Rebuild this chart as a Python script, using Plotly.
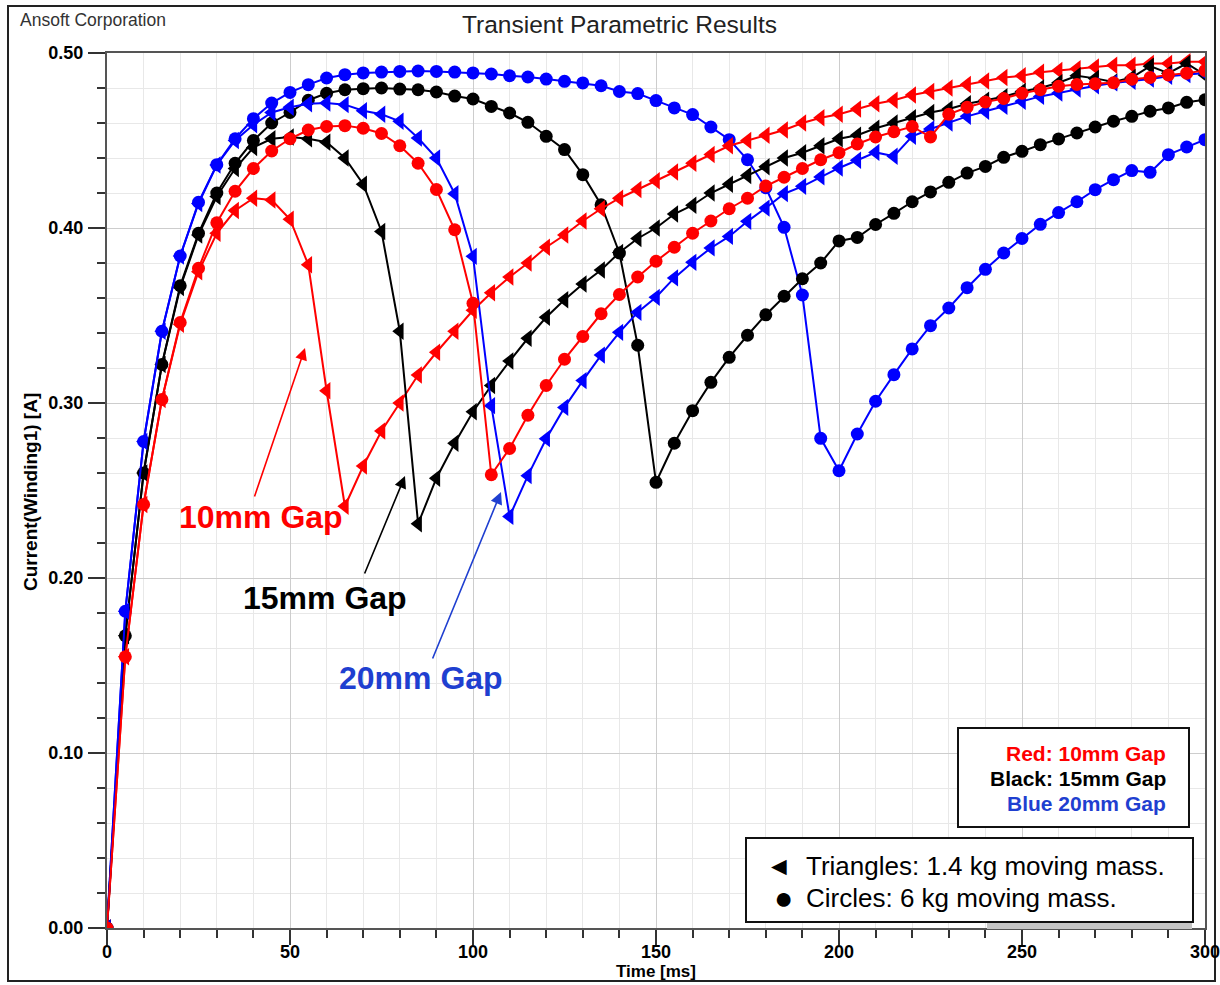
import plotly.graph_objects as go

# Sample times (ms) shared by all six runs
time_ms = list(range(0, 301, 5))

# Winding current [A] — triangles: 1.4 kg moving mass, circles: 6 kg moving mass
gap10_light = [0.0, 0.155, 0.242, 0.302, 0.345, 0.375, 0.397, 0.410, 0.417, 0.416,
               0.405, 0.379, 0.307, 0.241, 0.264, 0.284, 0.300, 0.316, 0.329, 0.341,
               0.353, 0.363, 0.372, 0.380, 0.389, 0.396, 0.404, 0.411, 0.417, 0.422,
               0.427, 0.432, 0.437, 0.442, 0.447, 0.450, 0.453, 0.456, 0.460, 0.463,
               0.465, 0.468, 0.471, 0.473, 0.476, 0.478, 0.480, 0.482, 0.484, 0.486,
               0.487, 0.489, 0.490, 0.491, 0.492, 0.493, 0.493, 0.494, 0.494, 0.495,
               0.495]
gap10_heavy = [0.0, 0.155, 0.242, 0.302, 0.346, 0.377, 0.403, 0.421, 0.434, 0.444,
               0.451, 0.456, 0.458, 0.4585, 0.457, 0.454, 0.447, 0.437, 0.422, 0.399,
               0.357, 0.259, 0.274, 0.293, 0.310, 0.325, 0.338, 0.351, 0.362, 0.372,
               0.381, 0.389, 0.397, 0.404, 0.411, 0.417, 0.424, 0.429, 0.434, 0.439,
               0.443, 0.448, 0.452, 0.455, 0.458, 0.452, 0.465, 0.469, 0.472, 0.474,
               0.477, 0.479, 0.481, 0.482, 0.4825, 0.483, 0.485, 0.486, 0.4875, 0.4885,
               0.490]
gap15_light = [0.0, 0.167, 0.260, 0.322, 0.366, 0.396, 0.418, 0.434, 0.446, 0.451,
               0.452, 0.451, 0.449, 0.440, 0.425, 0.398, 0.341, 0.231, 0.257, 0.277,
               0.295, 0.310, 0.324, 0.337, 0.349, 0.359, 0.368, 0.376, 0.386, 0.394,
               0.400, 0.408, 0.413, 0.420, 0.425, 0.430, 0.435, 0.440, 0.443, 0.447,
               0.451, 0.453, 0.457, 0.460, 0.463, 0.466, 0.468, 0.471, 0.473, 0.475,
               0.478, 0.480, 0.483, 0.487, 0.4855, 0.4835, 0.486, 0.4925, 0.4885, 0.494,
               0.4875]
gap15_heavy = [0.0, 0.167, 0.260, 0.322, 0.367, 0.397, 0.420, 0.437, 0.450, 0.460,
               0.466, 0.473, 0.477, 0.479, 0.4796, 0.480, 0.4794, 0.479, 0.4777, 0.4754,
               0.4737, 0.4695, 0.4657, 0.4604, 0.4524, 0.4448, 0.4305, 0.4133, 0.3857, 0.333,
               0.2547, 0.277, 0.2956, 0.3118, 0.3261, 0.3387, 0.3504, 0.361, 0.371, 0.380,
               0.3926, 0.3946, 0.402, 0.4084, 0.415, 0.4206, 0.4261, 0.4314, 0.4352, 0.4404,
               0.4438, 0.4476, 0.4509, 0.4543, 0.4577, 0.461, 0.4638, 0.4667, 0.4686, 0.4718,
               0.4733]
gap20_light = [0.0, 0.181, 0.278, 0.341, 0.384, 0.414, 0.436, 0.450, 0.459, 0.466,
               0.469, 0.471, 0.4714, 0.4705, 0.467, 0.465, 0.461, 0.4514, 0.440, 0.4196,
               0.3838, 0.2985, 0.2352, 0.2585, 0.2796, 0.2975, 0.3128, 0.3274, 0.3404, 0.3518,
               0.3604, 0.3715, 0.3804, 0.3886, 0.3952, 0.4038, 0.4114, 0.4196, 0.4238, 0.4292,
               0.4343, 0.4387, 0.4432, 0.441, 0.4524, 0.4566, 0.460, 0.4638, 0.4667, 0.4695,
               0.4724, 0.4752, 0.4771, 0.4794, 0.4813, 0.4829, 0.4838, 0.4851, 0.4867, 0.4876,
               0.4886]
gap20_heavy = [0.0, 0.181, 0.278, 0.341, 0.384, 0.4147, 0.4362, 0.451, 0.4625, 0.4714,
               0.4775, 0.4819, 0.4857, 0.4876, 0.4886, 0.4891, 0.4895, 0.4897, 0.4895, 0.4891,
               0.4886, 0.488, 0.487, 0.4863, 0.4851, 0.4838, 0.4829, 0.4813, 0.478, 0.4768,
               0.4728, 0.4686, 0.4648, 0.4577, 0.4505, 0.439, 0.423, 0.4004, 0.3617, 0.2798,
               0.2613, 0.2823, 0.301, 0.3162, 0.3309, 0.3442, 0.3543, 0.3659, 0.3764, 0.3857,
               0.394, 0.4021, 0.4088, 0.415, 0.4219, 0.4276, 0.4328, 0.4318, 0.4419, 0.4463,
               0.4505]

x_ticks = [0, 50, 100, 150, 200, 250, 300]
y_ticks = [0.0, 0.1, 0.2, 0.3, 0.4, 0.5]

RED, BLACK, BLUE = "#ff0000", "#000000", "#0000ff"
TEXT_BLUE = "#1f3fd0"
FONT = "Arial, Liberation Sans, sans-serif"

W, H = 1220, 985
PL, PR, PT, PB = 107, 1205, 53, 928   # plot area edges in page pixels


def fx(px):
    return (px - PL) / (PR - PL)


def fy(py):
    return (PB - py) / (PB - PT)


def dx(px):
    return (px - PL) / (PR - PL) * 300.0


def dy(py):
    return (PB - py) / (PB - PT) * 0.5


fig = go.Figure()

traces = [
    (gap20_heavy, BLUE, "circle", 13, "20mm Gap, 6 kg"),
    (gap15_heavy, BLACK, "circle", 13, "15mm Gap, 6 kg"),
    (gap10_light, RED, "triangle-left", 15, "10mm Gap, 1.4 kg"),
    (gap15_light, BLACK, "triangle-left", 15, "15mm Gap, 1.4 kg"),
    (gap20_light, BLUE, "triangle-left", 15, "20mm Gap, 1.4 kg"),
    (gap10_heavy, RED, "circle", 13, "10mm Gap, 6 kg"),
]
for ys, col, sym, size, name in traces:
    fig.add_trace(go.Scatter(
        x=time_ms, y=ys, mode="lines+markers", name=name,
        line=dict(color=col, width=2),
        marker=dict(symbol=sym, size=size, color=col, line=dict(width=0)),
        showlegend=False,
    ))

axis_common = dict(
    showline=True, linecolor="#555555", linewidth=2, mirror=True,
    ticks="outside", tickwidth=1.5, tickcolor="#333333",
    showgrid=True, gridcolor="#cdcdcd", gridwidth=1,
    zeroline=False, ticklabeloverflow="allow", automargin=False,
    tickfont=dict(family=FONT, size=18, color="#000000", weight="bold"),
)

fig.update_xaxes(
    range=[0, 300], tickvals=x_ticks, ticktext=[str(v) for v in x_ticks],
    ticklen=15, ticklabelstandoff=-9,
    minor=dict(dtick=10, tick0=0, ticks="outside", ticklen=8, tickwidth=1.5,
               tickcolor="#333333", showgrid=True, gridcolor="#e8e8e8"),
    **axis_common,
)
fig.update_yaxes(
    range=[0, 0.5], tickvals=y_ticks, ticktext=[f"{v:.2f}" for v in y_ticks],
    ticklen=17, ticklabelstandoff=1,
    minor=dict(dtick=0.02, tick0=0, ticks="outside", ticklen=8, tickwidth=1.5,
               tickcolor="#333333", showgrid=True, gridcolor="#e8e8e8"),
    **axis_common,
)

shapes = [
    # outer frame
    dict(type="rect", xref="paper", yref="paper", x0=fx(8), x1=fx(1215),
         y0=fy(981), y1=fy(6), line=dict(color="#222222", width=2), layer="below"),
    # grey strip under the lower box
    dict(type="rect", xref="paper", yref="paper", x0=fx(987), x1=fx(1192),
         y0=fy(929), y1=fy(922), fillcolor="#c6c6c6", line=dict(width=0), layer="above"),
    # colour key box
    dict(type="rect", xref="paper", yref="paper", x0=fx(958), x1=fx(1189),
         y0=fy(827), y1=fy(728), fillcolor="white",
         line=dict(color="#111111", width=2), layer="above"),
    # marker key box
    dict(type="rect", xref="paper", yref="paper", x0=fx(746), x1=fx(1193),
         y0=fy(922), y1=fy(838), fillcolor="white",
         line=dict(color="#111111", width=2), layer="above"),
]

ann = []


def text(px, py, s, size, color="#000000", anchor="center", bold=False, angle=0):
    ann.append(dict(
        xref="paper", yref="paper", x=fx(px), y=fy(py), text=s, showarrow=False,
        xanchor=anchor, yanchor="middle", textangle=angle,
        font=dict(family=FONT, size=size, color=color,
                  weight="bold" if bold else "normal"),
    ))


text(18, 20, "Ansoft Corporation", 17.5, "#333333", anchor="left")
text(619, 24, "Transient Parametric Results", 24.5, "#222222")
text(656, 971, "Time [ms]", 17, bold=True)
text(30, 492, "Current(Winding1) [A]", 19, bold=True, angle=-90)

text(1168, 753, "Red: 10mm Gap", 21, RED, anchor="right", bold=True)
text(1168, 778, "Black: 15mm Gap", 21, BLACK, anchor="right", bold=True)
text(1168, 803, "Blue 20mm Gap", 21, TEXT_BLUE, anchor="right", bold=True)

text(779, 866, "◄", 26)
text(783, 898, "●", 32)
text(804, 866, "Triangles: 1.4 kg moving mass.", 26, anchor="left")
text(804, 898, "Circles: 6 kg moving mass.", 26, anchor="left")

text(261, 517, "10mm Gap", 32, RED, bold=True)
text(325, 598, "15mm Gap", 32, BLACK, bold=True)
text(421, 678, "20mm Gap", 32, TEXT_BLUE, bold=True)

# pointer arrows from the gap labels to the current dips
for (tx, ty, hx, hy, col) in [(254, 498, 305, 348, RED),
                              (364, 575, 405, 476, BLACK),
                              (432, 660, 501, 492, TEXT_BLUE)]:
    ann.append(dict(
        xref="x", yref="y", axref="x", ayref="y",
        x=dx(hx), y=dy(hy), ax=dx(tx), ay=dy(ty), text="",
        showarrow=True, arrowhead=2, arrowsize=1.5, arrowwidth=1.6,
        arrowcolor=col, standoff=0,
    ))

fig.update_layout(
    width=W, height=H,
    margin=dict(l=PL, r=W - PR, t=PT, b=H - PB, pad=0, autoexpand=False),
    paper_bgcolor="white", plot_bgcolor="white",
    shapes=shapes, annotations=ann,
    font=dict(family=FONT),
)

fig.write_html("out.html")
